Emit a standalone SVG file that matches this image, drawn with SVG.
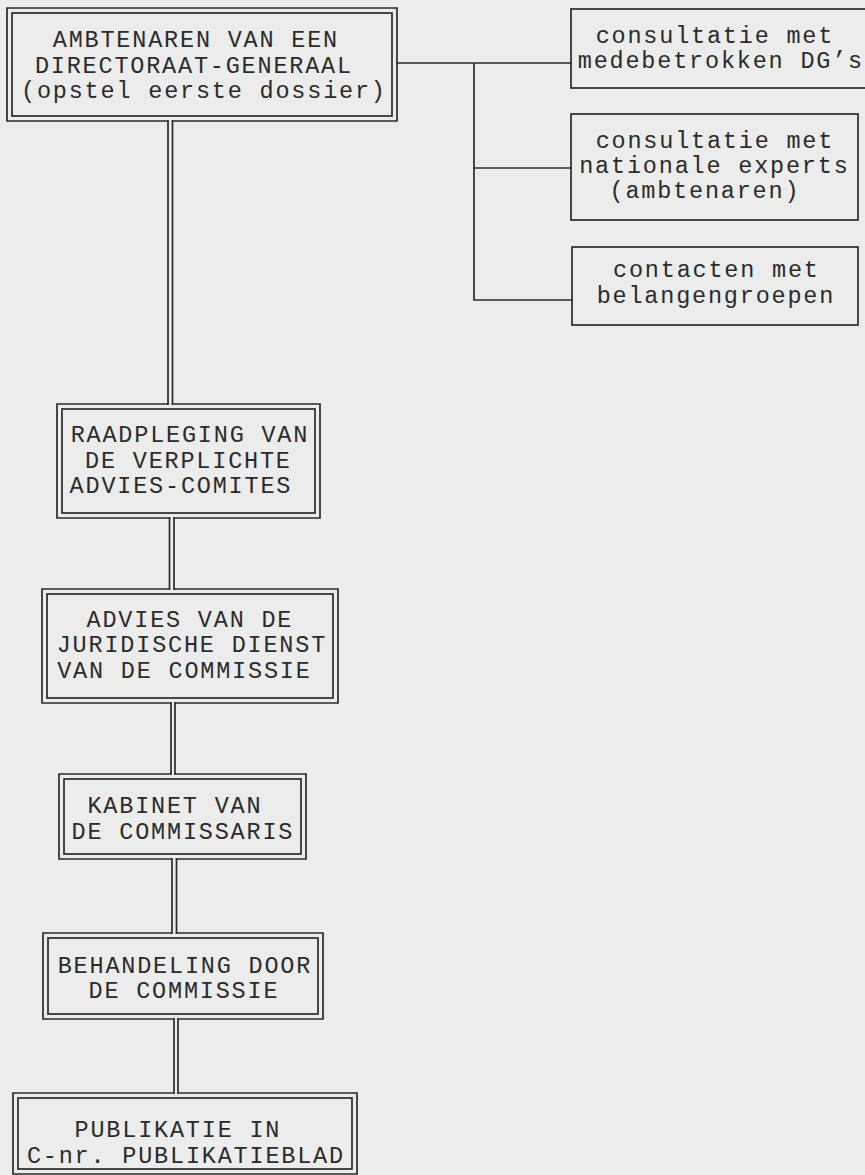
<svg xmlns="http://www.w3.org/2000/svg" width="865" height="1175" viewBox="0 0 865 1175">
  <style>
    .ln { fill: none; stroke: #2b2b2b; stroke-width: 1.7; stroke-linecap: square; stroke-linejoin: miter; }
    .tx { font-family: "Liberation Mono", "Courier New", monospace; font-size: 23.5px; letter-spacing: 1.8px; fill: #2b2b2b; text-anchor: middle; }
  </style>
  <rect x="0" y="0" width="865" height="1175" fill="#ececec"/>

  <g id="connectors" class="ln">
    <path d="M397,63 H571 M474,63 V300 M474,168 H571 M474,300 H572"/>
    <path d="M168,121 V404 M172.5,121 V404"/>
    <path d="M169.5,518 V589 M174,518 V589"/>
    <path d="M171,703 V774 M175,703 V774"/>
    <path d="M172,859 V933 M176.5,859 V933"/>
    <path d="M174,1019 V1093 M178,1019 V1093"/>
  </g>

  <g id="dg">
    <path class="ln" d="M168,121 H7 V8 H397 V121 H172.5"/>
    <rect class="ln" x="12" y="13" width="380" height="103"/>
    <text class="tx" x="195.9" y="47">AMBTENAREN VAN EEN</text>
    <text class="tx" x="193.9" y="73">DIRECTORAAT-GENERAAL</text>
    <text class="tx" x="203.9" y="98">(opstel eerste dossier)</text>
  </g>

  <g id="dgs">
    <rect class="ln" x="571" y="9" width="300" height="79"/>
    <text class="tx" x="714.9" y="43">consultatie met</text>
    <text class="tx" x="720.9" y="68">medebetrokken DG’s</text>
  </g>

  <g id="experts">
    <rect class="ln" x="571" y="114" width="287" height="106"/>
    <text class="tx" x="714.9" y="148">consultatie met</text>
    <text class="tx" x="714.4" y="173">nationale experts</text>
    <text class="tx" x="704.9" y="198">(ambtenaren)</text>
  </g>

  <g id="belangen">
    <rect class="ln" x="572" y="247" width="286" height="78"/>
    <text class="tx" x="716.4" y="277">contacten met</text>
    <text class="tx" x="715.9" y="303">belangengroepen</text>
  </g>

  <g id="raadpleging">
    <path class="ln" d="M168,404 H57 V518 H169.5 M174,518 H320 V404 H172.5"/>
    <rect class="ln" x="62" y="409" width="253" height="104"/>
    <text class="tx" x="189.9" y="442">RAADPLEGING VAN</text>
    <text class="tx" x="188.4" y="468">DE VERPLICHTE</text>
    <text class="tx" x="180.9" y="493">ADVIES-COMITES</text>
  </g>

  <g id="juridisch">
    <path class="ln" d="M169.5,589 H42 V703 H171 M175,703 H338 V589 H174"/>
    <rect class="ln" x="47" y="594" width="286" height="104"/>
    <text class="tx" x="189.9" y="627">ADVIES VAN DE</text>
    <text class="tx" x="191.9" y="652">JURIDISCHE DIENST</text>
    <text class="tx" x="184.4" y="678">VAN DE COMMISSIE</text>
  </g>

  <g id="kabinet">
    <path class="ln" d="M171,774 H59 V859 H172 M176.5,859 H306 V774 H175"/>
    <rect class="ln" x="64" y="779" width="237" height="75"/>
    <text class="tx" x="174.9" y="813">KABINET VAN</text>
    <text class="tx" x="182.9" y="839">DE COMMISSARIS</text>
  </g>

  <g id="behandeling">
    <path class="ln" d="M172,933 H43 V1019 H174 M178,1019 H323 V933 H176.5"/>
    <rect class="ln" x="48" y="938" width="270" height="76"/>
    <text class="tx" x="184.9" y="973">BEHANDELING DOOR</text>
    <text class="tx" x="183.9" y="998">DE COMMISSIE</text>
  </g>

  <g id="publikatie">
    <path class="ln" d="M174,1093 H13 V1174 H357 V1093 H178"/>
    <rect class="ln" x="18" y="1098" width="334" height="71"/>
    <text class="tx" x="177.9" y="1137">PUBLIKATIE IN</text>
    <text class="tx" x="185.9" y="1163">C-nr. PUBLIKATIEBLAD</text>
  </g>
</svg>
